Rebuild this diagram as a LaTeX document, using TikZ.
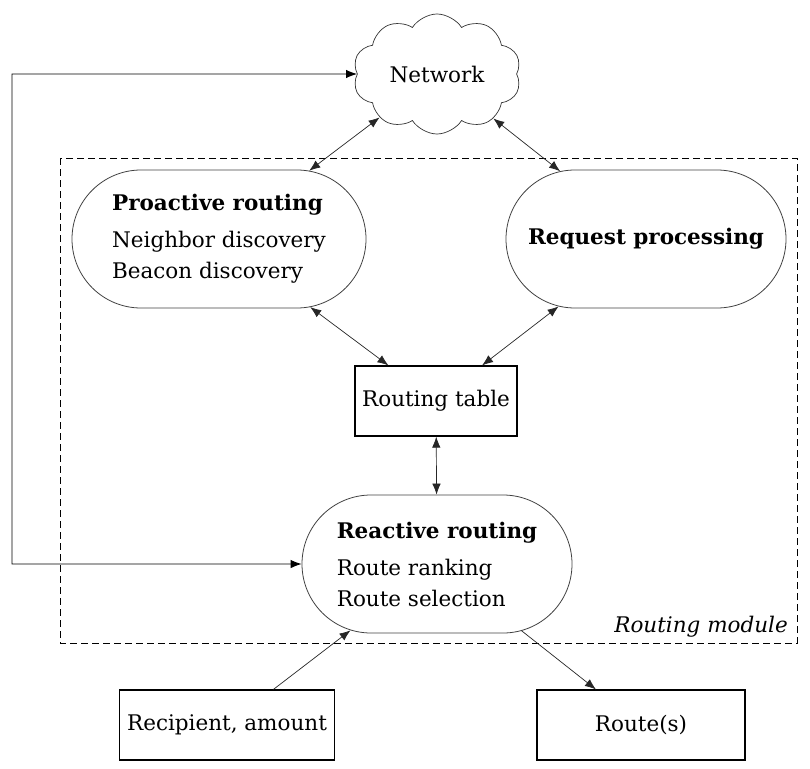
\documentclass[tikz,border=0pt]{standalone}
\usepackage{fontspec}
\setmainfont{DejaVu Serif}
\usetikzlibrary{shapes.misc,shapes.symbols,arrows.meta}
\begin{document}
\begin{tikzpicture}[x=1pt,y=-1pt,
  every node/.style={font=\fontsize{21.5}{31}\selectfont},
  stad/.style={rounded rectangle, draw=black!75, line width=0.8pt, inner sep=0pt,
     minimum height=138pt, align=left},
  plainbox/.style={draw, line width=1.2pt, inner sep=0pt, minimum height=70pt},
  conn/.style={draw=black!85, line width=0.7pt},
  tip/.style={-{Latex[length=11pt,width=8.5pt]}},
  dtip/.style={{Latex[length=11pt,width=8.5pt]}-{Latex[length=11pt,width=8.5pt]}}
]
\useasboundingbox (0,0) rectangle (810,768);
% routing module frame
\draw[dashed, dash pattern=on 7pt off 4pt, line width=0.9pt] (60,158) rectangle (797,643);
\node[anchor=base east, inner sep=0pt, font=\fontsize{21.5}{31}\selectfont\itshape] (modlbl) at (788,632) {Routing module};

\node[cloud, cloud puffs=10, cloud puff arc=115, draw=black!80, line width=0.7pt,
      minimum width=168pt, minimum height=120pt, inner sep=0pt, aspect=1.4] (net) at (437,74) {Network};

\node[stad, minimum width=294pt] (pro) at (219,239)
  {\textbf{Proactive routing}\\[6pt]Neighbor discovery\\Beacon discovery};
\node[stad, minimum width=280pt] (req) at (646,239) {\textbf{Request processing}};
\node[plainbox, minimum width=162pt] (tab) at (436,401) {Routing table};
\node[stad, minimum width=270pt] (rea) at (437,564)
  {\textbf{Reactive routing}\\[6pt]Route ranking\\Route selection};
\node[plainbox, minimum width=215pt] (rcp) at (227,725) {Recipient, amount};
\node[plainbox, minimum width=208pt] (out) at (641,725) {Route(s)};

\coordinate (fbtop) at (12,74);
\coordinate (fbbot) at (12,564);

\path[conn, dtip] (net) -- (pro);
\path[conn, dtip] (net) -- (req);
\path[conn, dtip] (pro) -- (tab);
\path[conn, dtip] (req) -- (tab);
\path[conn, dtip] (tab) -- (rea);
\path[conn, tip] (rcp) -- (rea);
\path[conn, tip] (rea) -- (out);
\path[draw, line width=0.9pt, dtip] (net.west) -- (fbtop) -- (fbbot) -- (rea.west);
\end{tikzpicture}
\end{document}
